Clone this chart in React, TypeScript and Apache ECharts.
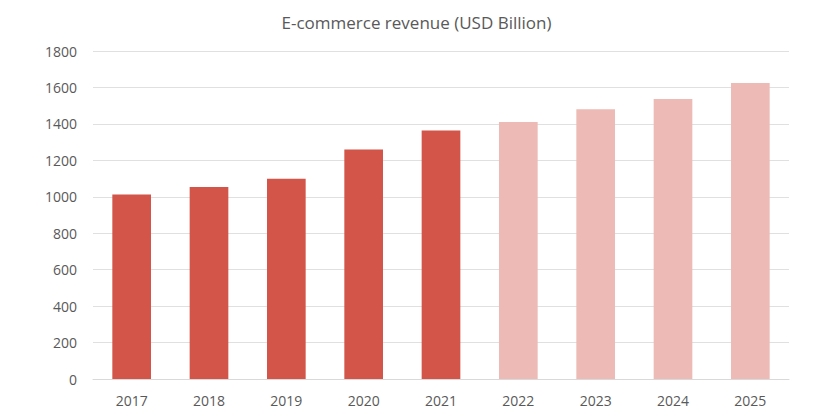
import React, { useEffect, useRef } from "react";
import * as echarts from "echarts";

const years = ["2017", "2018", "2019", "2020", "2021", "2022", "2023", "2024", "2025"];
const revenue = [1013, 1053, 1099, 1259, 1364, 1411, 1480, 1537, 1624];
const forecastYears = ["2022", "2023", "2024", "2025"];
const yTicks = { min: 0, max: 1800, interval: 200 };

const ACTUAL = "#D35449";
const FORECAST = "#EDBAB5";
const FONT = "'Open Sans', 'Noto Sans', sans-serif";

export default function App() {
  const ref = useRef<HTMLDivElement>(null);
  useEffect(() => {
    if (!ref.current) return;
    const chart = echarts.init(ref.current, null, { renderer: "svg" });
    chart.setOption({
      animation: false,
      backgroundColor: "#ffffff",
      title: {
        text: "E-commerce revenue (USD Billion)",
        left: "center",
        top: 9,
        textStyle: { fontFamily: FONT, fontSize: 17, fontWeight: "normal", color: "#595959" },
      },
      grid: { left: 93, right: 44, top: 51, bottom: 38 },
      xAxis: {
        type: "category",
        data: years,
        axisLine: { show: true, lineStyle: { color: "#d9d9d9" } },
        axisTick: { show: false },
        axisLabel: { fontFamily: FONT, fontSize: 14, color: "#595959", margin: 14 },
      },
      yAxis: {
        type: "value",
        min: yTicks.min,
        max: yTicks.max,
        interval: yTicks.interval,
        axisLine: { show: false },
        axisTick: { show: false },
        splitLine: { lineStyle: { color: "#e0e0e0" } },
        axisLabel: {
          fontFamily: FONT,
          fontSize: 14,
          color: "#595959",
          margin: 16,
          formatter: (v: number) => String(v),
        },
      },
      series: [
        {
          type: "bar",
          barWidth: "50%",
          data: years.map((y, i) => ({
            value: revenue[i],
            itemStyle: { color: forecastYears.includes(y) ? FORECAST : ACTUAL },
          })),
        },
      ],
    });
    return () => chart.dispose();
  }, []);
  return (
    <div
      ref={ref}
      style={{ position: "absolute", left: 0, top: 0, width: 833, height: 417 }}
    />
  );
}
